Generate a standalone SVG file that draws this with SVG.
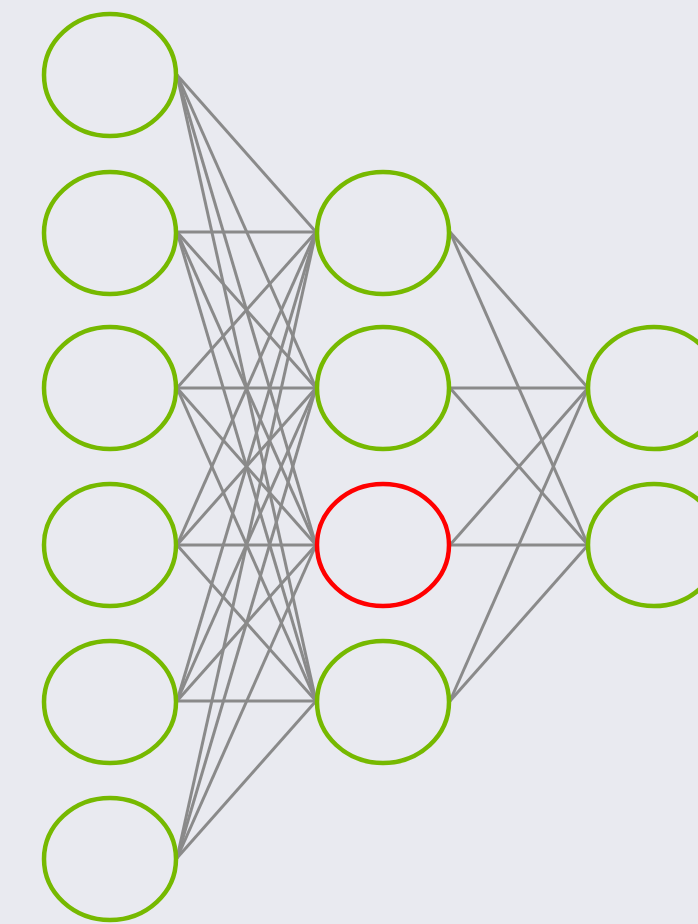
<svg xmlns="http://www.w3.org/2000/svg" width="698" height="924" viewBox="0 0 698 924">
<style>
.n{fill:none;stroke:#76b900;stroke-width:4.5}
.r{fill:none;stroke:#ff0000;stroke-width:4.5}
.c line{stroke:#8a8a8a;stroke-width:3}
</style>
<rect width="698" height="924" fill="#e9eaf0"/>
<g class="c" id="connectors">
<line x1="177" y1="75" x2="316" y2="232"/><line x1="177" y1="75" x2="316" y2="388"/><line x1="177" y1="75" x2="316" y2="545"/><line x1="177" y1="75" x2="316" y2="701"/>
<line x1="177" y1="232" x2="316" y2="232"/><line x1="177" y1="232" x2="316" y2="388"/><line x1="177" y1="232" x2="316" y2="545"/><line x1="177" y1="232" x2="316" y2="701"/>
<line x1="177" y1="388" x2="316" y2="232"/><line x1="177" y1="388" x2="316" y2="388"/><line x1="177" y1="388" x2="316" y2="545"/><line x1="177" y1="388" x2="316" y2="701"/>
<line x1="177" y1="545" x2="316" y2="232"/><line x1="177" y1="545" x2="316" y2="388"/><line x1="177" y1="545" x2="316" y2="545"/><line x1="177" y1="545" x2="316" y2="701"/>
<line x1="177" y1="701" x2="316" y2="232"/><line x1="177" y1="701" x2="316" y2="388"/><line x1="177" y1="701" x2="316" y2="545"/><line x1="177" y1="701" x2="316" y2="701"/>
<line x1="177" y1="858" x2="316" y2="232"/><line x1="177" y1="858" x2="316" y2="388"/><line x1="177" y1="858" x2="316" y2="545"/><line x1="177" y1="858" x2="316" y2="701"/>
<line x1="450" y1="232" x2="588" y2="388"/><line x1="450" y1="232" x2="588" y2="545"/>
<line x1="450" y1="388" x2="588" y2="388"/><line x1="450" y1="388" x2="588" y2="545"/>
<line x1="450" y1="545" x2="588" y2="388"/><line x1="450" y1="545" x2="588" y2="545"/>
<line x1="450" y1="701" x2="588" y2="388"/><line x1="450" y1="701" x2="588" y2="545"/>
</g>
<g id="in1"><ellipse class="n" cx="110" cy="75" rx="66" ry="61"/></g>
<g id="in2"><ellipse class="n" cx="110" cy="233" rx="66" ry="61"/></g>
<g id="in3"><ellipse class="n" cx="110" cy="388" rx="66" ry="61"/></g>
<g id="in4"><ellipse class="n" cx="110" cy="545" rx="66" ry="61"/></g>
<g id="in5"><ellipse class="n" cx="110" cy="702" rx="66" ry="61"/></g>
<g id="in6"><ellipse class="n" cx="110" cy="859" rx="66" ry="61"/></g>
<g id="h1"><ellipse class="n" cx="383" cy="233" rx="66" ry="61"/></g>
<g id="h2"><ellipse class="n" cx="383" cy="388" rx="66" ry="61"/></g>
<g id="h3"><ellipse class="r" cx="383" cy="545" rx="66" ry="61"/></g>
<g id="h4"><ellipse class="n" cx="383" cy="702" rx="66" ry="61"/></g>
<g id="o1"><ellipse class="n" cx="654" cy="388" rx="66" ry="61"/></g>
<g id="o2"><ellipse class="n" cx="654" cy="545" rx="66" ry="61"/></g>
</svg>
